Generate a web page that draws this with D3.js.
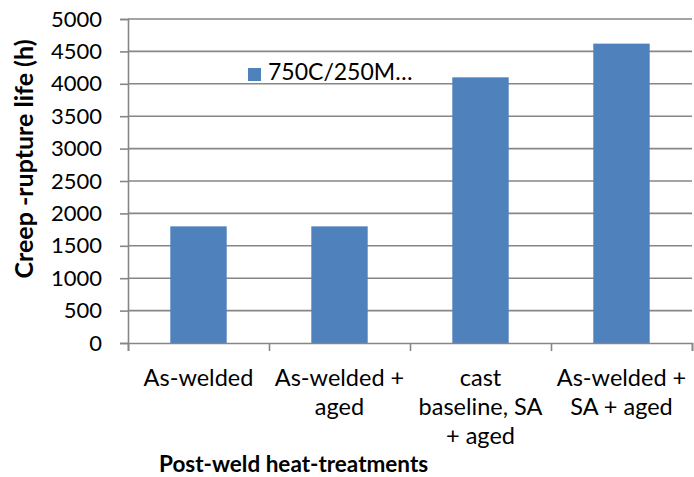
<!DOCTYPE html>
<html>
<head>
<meta charset="utf-8">
<script src="https://cdn.jsdelivr.net/npm/d3@7"></script>
<style>
    body { margin: 0; background: #fff; }
    svg text { font-family: Lato, "Open Sans", sans-serif; fill: #000; }
</style>
</head>
<body>
<div id="chart"></div>
<script>
// data
const categories = [
    ['As-welded'],
    ['As-welded +', 'aged'],
    ['cast', 'baseline, SA', '+ aged'],
    ['As-welded +', 'SA + aged'],
];
const ruptureLife = [1800, 1800, 4100, 4620];
const yTickValues = [0, 500, 1000, 1500, 2000, 2500, 3000, 3500, 4000, 4500, 5000];
const seriesName = '750C/250M…';
const yTitle = 'Creep -rupture life (h)';
const xTitle = 'Post-weld heat-treatments';

const width = 694, height = 477;
const margin = { left: 128, top: 19, right: 2, bottom: 134 };
const GRID = '#868686';
const BAR = '#4F81BD';

const svg = d3.select('#chart').append('svg')
    .attr('width', width)
    .attr('height', height);

const x = d3.scaleBand()
    .domain(d3.range(categories.length))
    .range([margin.left, width - margin.right])
    .paddingInner(0.6)
    .paddingOuter(0.3);
const y = d3.scaleLinear()
    .domain([0, 5000])
    .range([height - margin.bottom, margin.top]);

// --- gridlines
svg.append('g').attr('class', 'grid')
    .selectAll('line')
    .data(yTickValues.filter(d => d > 0))
    .join('line')
    .attr('x1', margin.left).attr('x2', width - margin.right)
    .attr('y1', d => y(d)).attr('y2', d => y(d))
    .attr('stroke', GRID).attr('stroke-width', 1.6);

// --- bars
svg.append('g').attr('class', 'bars')
    .selectAll('rect')
    .data(ruptureLife)
    .join('rect')
    .attr('x', (d, i) => x(i))
    .attr('width', x.bandwidth())
    .attr('y', d => y(d))
    .attr('height', d => y(0) - y(d))
    .attr('fill', BAR);

// --- y axis
const yAxis = d3.axisLeft(y).tickValues(yTickValues).tickSize(8).tickPadding(18).tickFormat(d3.format('d'));
const gy = svg.append('g')
    .attr('transform', `translate(${margin.left},0)`)
    .call(yAxis);
gy.select('.domain').attr('stroke', GRID).attr('stroke-width', 1.6);
gy.selectAll('.tick line').attr('stroke', GRID).attr('stroke-width', 1.6);
gy.selectAll('.tick text').attr('font-size', 22).attr('font-family', 'Lato');

// --- x axis (ticks on the category boundaries)
const xEdges = d3.scaleLinear().domain([0, categories.length]).range([margin.left, width - margin.right]);
const gx = svg.append('g')
    .attr('transform', `translate(0,${y(0)})`)
    .call(d3.axisBottom(xEdges).ticks(categories.length).tickSize(8).tickFormat(''));
gx.select('.domain').attr('stroke', GRID).attr('stroke-width', 1.6);
gx.selectAll('.tick line').attr('stroke', GRID).attr('stroke-width', 1.6);

// category labels
const labels = svg.append('g').attr('class', 'x-labels')
    .selectAll('text')
    .data(categories)
    .join('text')
    .attr('x', (d, i) => x(i) + x.bandwidth() / 2)
    .attr('y', y(0) + 43)
    .attr('text-anchor', 'middle')
    .attr('font-size', 23.5);
labels.selectAll('tspan')
    .data((d, i) => d.map(line => ({ line, cx: x(i) + x.bandwidth() / 2 })))
    .join('tspan')
    .attr('x', d => d.cx)
    .attr('dy', (d, j) => j === 0 ? 0 : 29)
    .text(d => d.line);

// --- titles
svg.append('text')
    .attr('transform', `translate(33,159) rotate(-90)`)
    .attr('text-anchor', 'middle')
    .attr('font-size', 25)
    .attr('font-weight', 'bold')
    .text(yTitle);

svg.append('text')
    .attr('x', 159)
    .attr('y', 472)
    .attr('font-size', 22.5)
    .attr('font-weight', 'bold')
    .text(xTitle);

// --- legend
const legend = svg.append('g').attr('transform', 'translate(248,68)');
legend.append('rect').attr('width', 13).attr('height', 13).attr('fill', BAR);
legend.append('text')
    .attr('x', 20).attr('y', 12)
    .attr('font-size', 23)
    .text(seriesName);
</script>
</body>
</html>
